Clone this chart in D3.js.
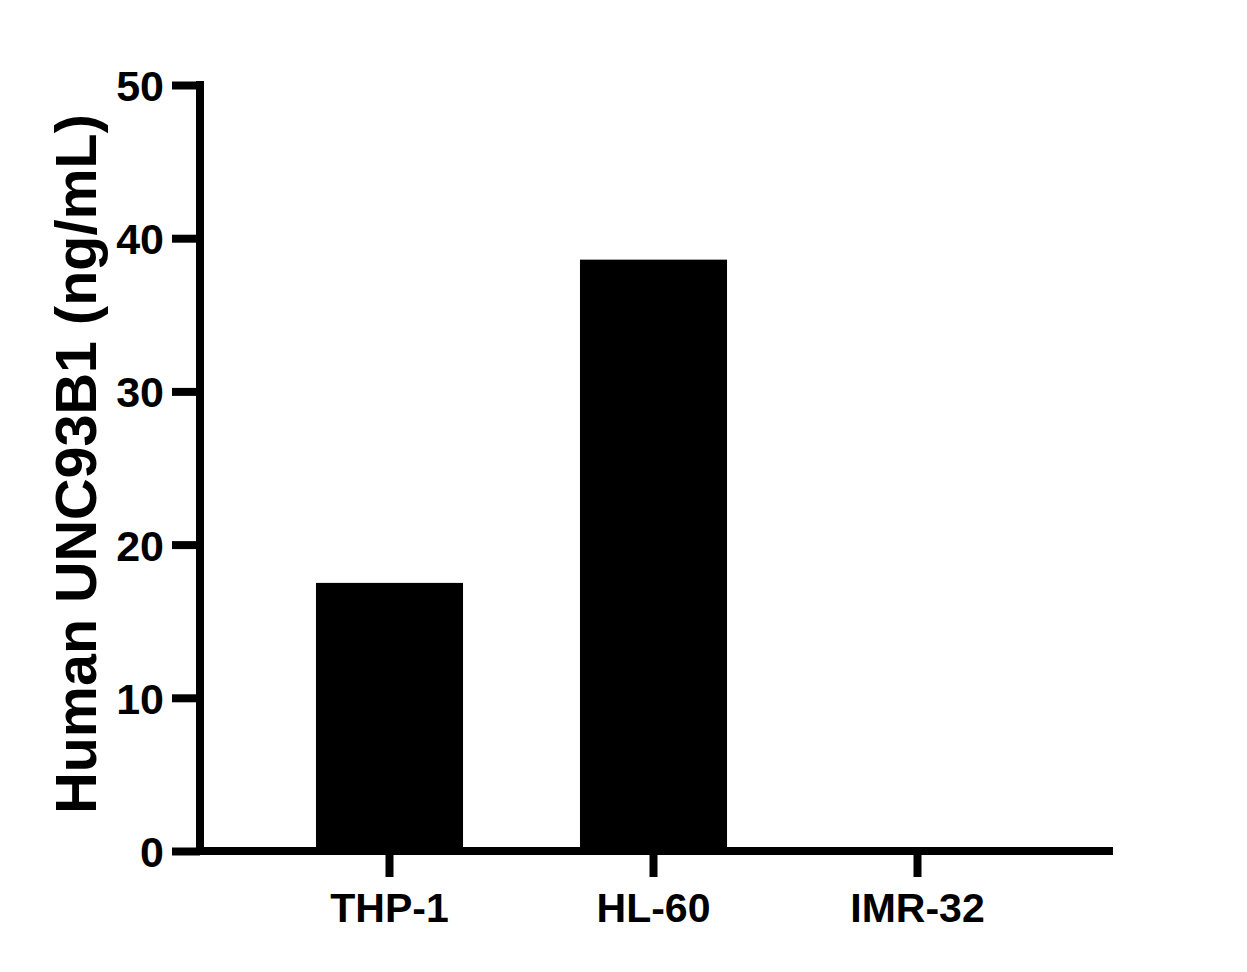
<!DOCTYPE html>
<html>
<head>
<meta charset="utf-8">
<script src="https://cdn.jsdelivr.net/npm/d3@7"></script>
<style>
  html, body { margin: 0; padding: 0; background: #fff; }
  svg { display: block; }
  text { font-family: Arial, "Liberation Sans", sans-serif; font-weight: bold; fill: #000; }
</style>
</head>
<body>
<svg id="chart" width="1247" height="972"></svg>
<script>
const categories = ["THP-1", "HL-60", "IMR-32"];
const values = [17.5, 38.6, 0];
const yTicks = [0, 10, 20, 30, 40, 50];
const yTitle = "Human UNC93B1 (ng/mL)";

const svg = d3.select("#chart");
const W = 1247, H = 972;
svg.append("rect").attr("width", W).attr("height", H).attr("fill", "#fff");

const axisX = 200, baseY = 851, topY = 85, rightX = 1109;

const y = d3.scaleLinear().domain([0, 50]).range([baseY, topY]);
const x = d3.scaleBand().domain(categories).range([257.5, 1049.5]).paddingInner(0.443).paddingOuter(0.2215);

// bars
svg.append("g").selectAll("rect").data(categories).join("rect")
  .attr("x", d => x(d))
  .attr("width", x.bandwidth())
  .attr("y", (d, i) => y(values[i]))
  .attr("height", (d, i) => baseY - y(values[i]))
  .attr("fill", "#000");

// y axis
const yAxis = svg.append("g").attr("transform", `translate(${axisX},0)`)
  .call(d3.axisLeft(y).tickValues(yTicks).tickFormat(d3.format("d")).tickSize(28).tickSizeOuter(0).tickPadding(8));
yAxis.select(".domain").remove();
yAxis.selectAll(".tick line").attr("stroke", "#000").attr("stroke-width", 8);
yAxis.selectAll(".tick text").attr("font-size", 43).attr("font-family", "Arial, 'Liberation Sans', sans-serif").attr("font-weight", "bold").attr("dy", "0.36em");

// x axis
const xAxis = svg.append("g").attr("transform", `translate(0,${baseY})`)
  .call(d3.axisBottom(x).tickSize(26).tickSizeOuter(0).tickPadding(16));
xAxis.select(".domain").remove();
xAxis.selectAll(".tick line").attr("stroke", "#000").attr("stroke-width", 8);
xAxis.selectAll(".tick text").attr("font-size", 41).attr("font-family", "Arial, 'Liberation Sans', sans-serif").attr("font-weight", "bold");

// axis lines
svg.append("line").attr("x1", axisX).attr("x2", axisX).attr("y1", baseY).attr("y2", topY)
  .attr("stroke", "#000").attr("stroke-width", 8).attr("stroke-linecap", "square");
svg.append("line").attr("x1", axisX).attr("x2", rightX).attr("y1", baseY).attr("y2", baseY)
  .attr("stroke", "#000").attr("stroke-width", 8).attr("stroke-linecap", "square");

// y title
svg.append("text")
  .attr("transform", "translate(96,464) rotate(-90)")
  .attr("text-anchor", "middle")
  .attr("font-size", 57.5)
  .text(yTitle);
</script>
</body>
</html>
